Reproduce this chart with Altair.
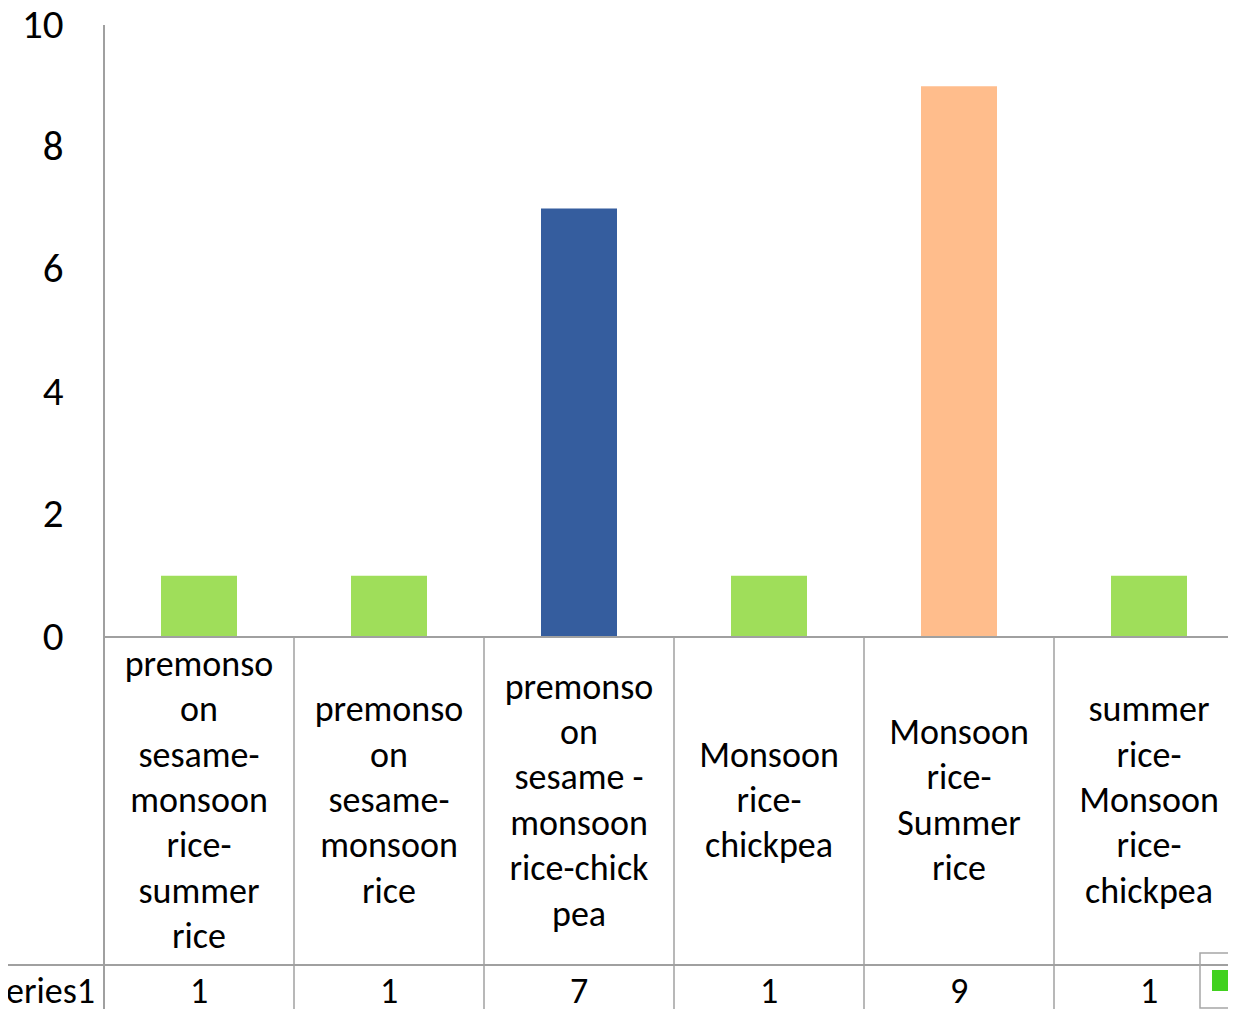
import altair as alt
import pandas as pd

# ---------------- data ----------------
categories = [
    "premonsoon sesame-monsoon rice-summer rice",
    "premonsoon sesame-monsoon rice",
    "premonsoon sesame -monsoon rice-chickpea",
    "Monsoon rice-chickpea",
    "Monsoon rice-Summer rice",
    "summer rice-Monsoon rice-chickpea",
]
label_lines = [
    ["premonso", "on", "sesame-", "monsoon", "rice-", "summer", "rice"],
    ["premonso", "on", "sesame-", "monsoon", "rice"],
    ["premonso", "on", "sesame -", "monsoon", "rice-chick", "pea"],
    ["Monsoon", "rice-", "chickpea"],
    ["Monsoon", "rice-", "Summer", "rice"],
    ["summer", "rice-", "Monsoon", "rice-", "chickpea"],
]
values = [1, 1, 7, 1, 9, 1]
bar_colors = ["#9fde5a", "#9fde5a", "#355d9e", "#9fde5a", "#ffbd8c", "#9fde5a"]
series_name = "Series1"
y_ticks = [0, 2, 4, 6, 8, 10]

# ---------------- layout ----------------
FONT = "Calibri, Carlito, Lato, sans-serif"
LINE = "#a0a0a0"
W = 1124           # plot width (view), page x 104 .. 1228
H = 984            # plot height (view), page y 25 .. 1009
STEP = 190         # px per category
ZERO_PX = 612      # y pixel of value 0 inside the view
TABLE_ROW_PX = 940 # separator between labels and values
LABEL_MID = 776    # vertical centre of the category-label cells
LINE_H = 45.4
TXT = 36
ymin = 10 - 10 * H / ZERO_PX

idx = list(range(len(categories)))
df = pd.DataFrame({
    "cat": categories,
    "idx": idx,
    "center": [i + 0.5 for i in idx],
    "x0": [i + 0.3 for i in idx],
    "x1": [i + 0.7 for i in idx],
    "value": values,
    "vlabel": [str(v) for v in values],
    "label": label_lines,
})
name_df = pd.DataFrame({"name": [series_name]})

xscale = alt.Scale(domain=[0, W / STEP], nice=False, zero=False)
yscale = alt.Scale(domain=[ymin, 10], nice=False, zero=False)

base = alt.Chart(df)

bars = base.mark_bar().encode(
    x=alt.X("x0:Q", scale=xscale, axis=None),
    x2="x1:Q",
    y=alt.Y("value:Q", scale=yscale,
            axis=alt.Axis(values=y_ticks, ticks=False, tickSize=0, domain=False,
                          grid=False, labelFontSize=41, labelFont=FONT,
                          labelColor="black", labelPadding=41, title=None)),
    y2=alt.datum(0),
    color=alt.Color("cat:N", scale=alt.Scale(domain=categories, range=bar_colors),
                    legend=None),
)

# axis / table lines
yaxis_line = base.mark_rule(color=LINE, strokeWidth=1.5).encode(
    x=alt.value(0), y=alt.value(0), y2=alt.value(H)
)
xaxis_line = base.mark_rule(color=LINE, strokeWidth=1.5).encode(
    x=alt.value(0), x2=alt.value(W), y=alt.value(ZERO_PX)
)
row_line = base.mark_rule(color=LINE, strokeWidth=1.5).encode(
    x=alt.value(-104), x2=alt.value(W), y=alt.value(TABLE_ROW_PX)
)
col_lines = base.mark_rule(color=LINE, strokeWidth=1.5).encode(
    x=alt.X("idx:Q", scale=xscale), y=alt.value(ZERO_PX), y2=alt.value(H)
)

cat_text = base.transform_calculate(
    ypx=f"{LABEL_MID} - (length(datum.label) - 1) * {LINE_H} / 2"
).mark_text(align="center", baseline="middle", fontSize=TXT,
            lineHeight=LINE_H, font=FONT, color="black").encode(
    x=alt.X("center:Q", scale=xscale),
    y=alt.Y("ypx:Q", scale=None),
    text="label:N",
)
val_text = base.mark_text(align="center", baseline="middle", fontSize=TXT,
                          font=FONT, color="black").encode(
    x=alt.X("center:Q", scale=xscale), y=alt.value(967), text="vlabel:N"
)
name_text = alt.Chart(name_df).mark_text(align="right", baseline="middle", fontSize=TXT,
                                         font=FONT, color="black").encode(
    x=alt.value(-9), y=alt.value(967), text="name:N"
)

legend_box = alt.Chart(name_df).mark_rect(fill=None, stroke="#a6a6a6", strokeWidth=1.5).encode(
    x=alt.value(1096), x2=alt.value(1140), y=alt.value(928), y2=alt.value(983)
)
legend_key = alt.Chart(name_df).mark_rect(fill="#41d11f").encode(
    x=alt.value(1108), x2=alt.value(1129), y=alt.value(945), y2=alt.value(966)
)

chart = alt.layer(
    bars, yaxis_line, xaxis_line, row_line, col_lines,
    cat_text, val_text, name_text, legend_box, legend_key
).properties(
    width=W, height=H,
    autosize=alt.AutoSizeParams(type="none"),
    padding={"left": 96, "top": 17, "right": 0, "bottom": 0},
    background="white",
).configure_view(stroke=None)

chart.save("out.html", embed_options={"renderer": "svg", "actions": False})
